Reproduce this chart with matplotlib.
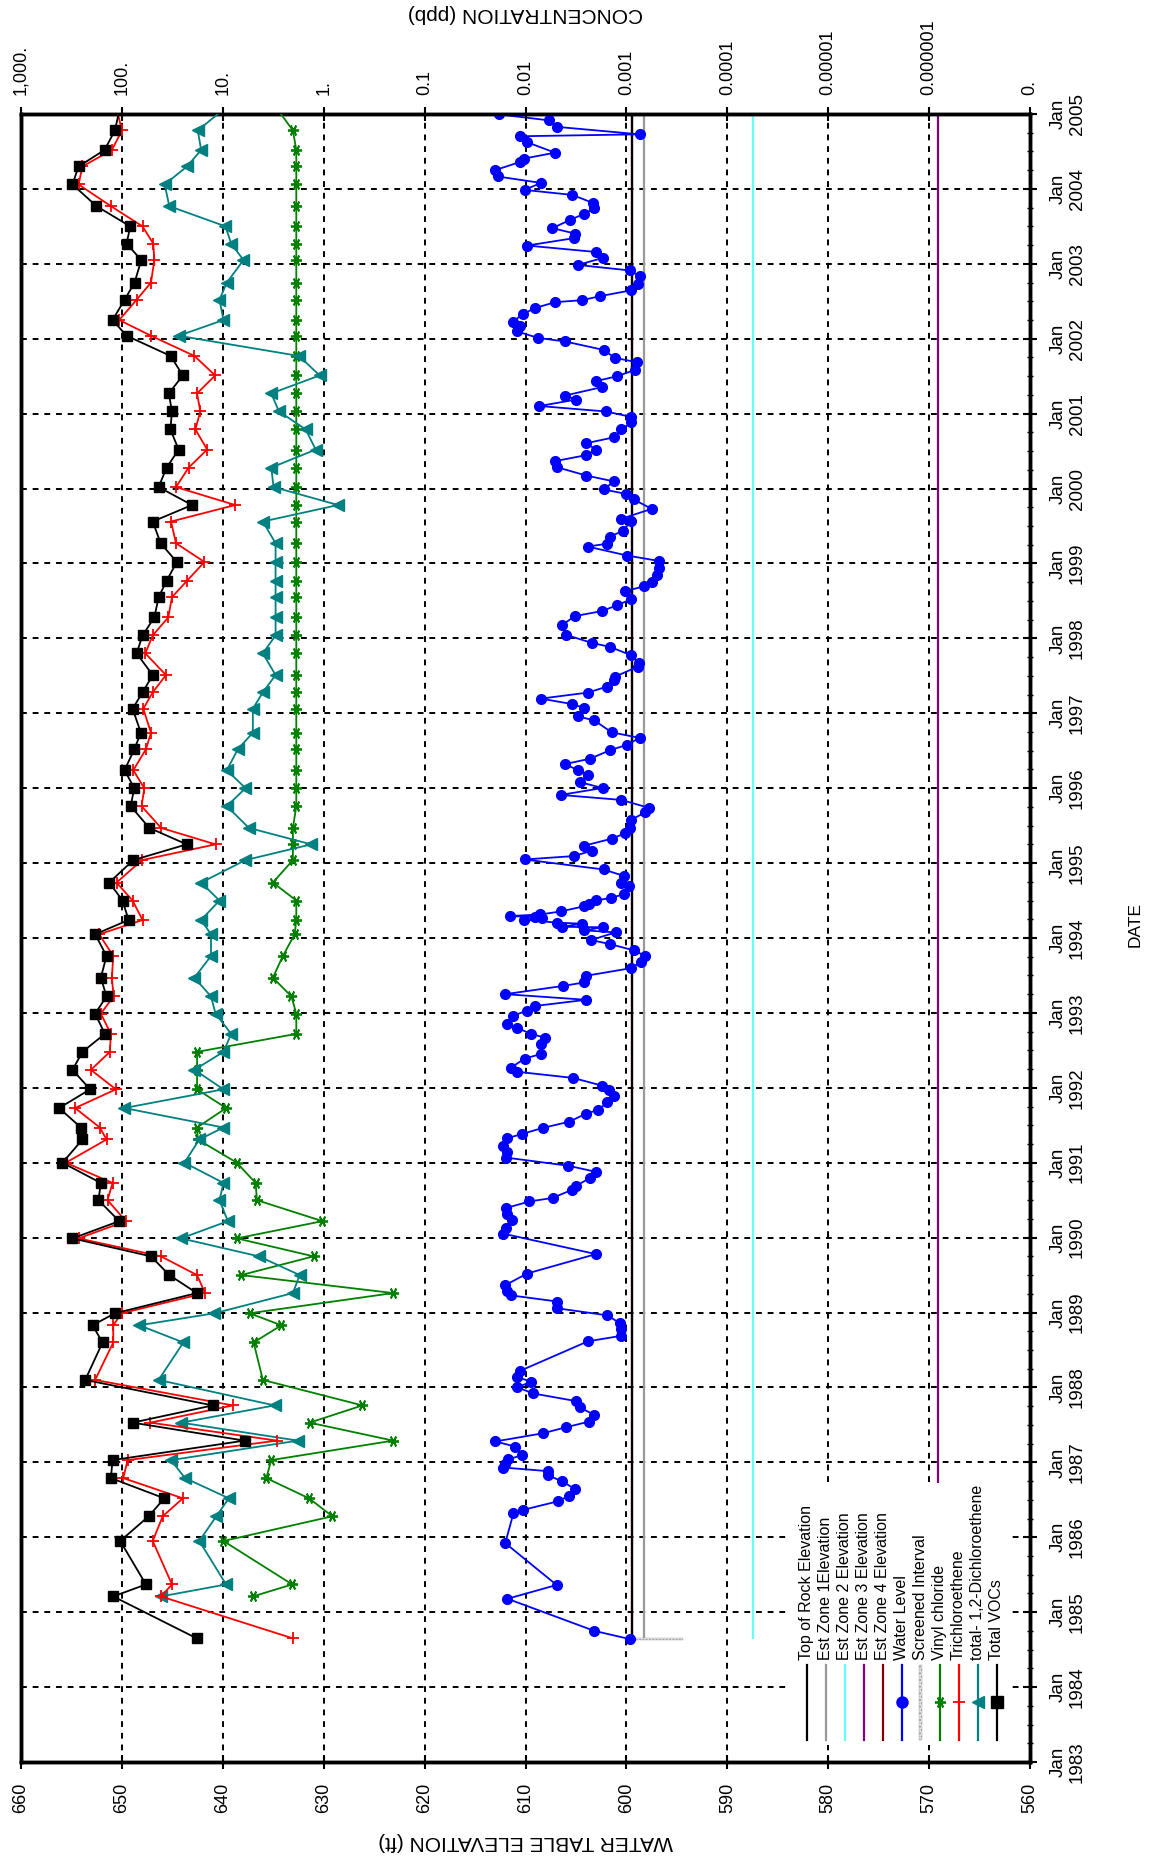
import numpy as np
import matplotlib
matplotlib.use("Agg")
import matplotlib.pyplot as plt
from matplotlib.lines import Line2D
from matplotlib.patches import Rectangle
from matplotlib.ticker import NullLocator

plt.rcParams['font.family'] = ['Liberation Sans', 'DejaVu Sans']

nan = float('nan')

# ---------------- water level record (decimal year, ft) ----------------
wl_dates = [
    1984.641, 1984.750, 1985.179, 1985.363, 1985.922, 1986.318, 1986.365, 1986.481,
    1986.556, 1986.645, 1986.747, 1986.829, 1986.883, 1986.931, 1986.979, 1987.040,
    1987.095, 1987.211, 1987.279, 1987.388, 1987.470, 1987.545, 1987.633, 1987.735,
    1987.817, 1987.920, 1988.001, 1988.076, 1988.138, 1988.219, 1988.615, 1988.690,
    1988.778, 1988.860, 1988.962, 1989.058, 1989.147, 1989.228, 1989.283, 1989.365,
    1989.521, 1989.780, 1990.053, 1990.135, 1990.237, 1990.319, 1990.394, 1990.483,
    1990.530, 1990.639, 1990.694, 1990.796, 1990.878, 1990.960, 1991.069, 1991.144,
    1991.226, 1991.328, 1991.382, 1991.464, 1991.546, 1991.655, 1991.703, 1991.805,
    1991.894, 1991.975, 1992.030, 1992.132, 1992.214, 1992.269, 1992.391, 1992.453,
    1992.582, 1992.670, 1992.718, 1992.800, 1992.848, 1992.964, 1993.032, 1993.093,
    1993.175, 1993.250, 1993.359, 1993.407, 1993.496, 1993.598, 1993.680, 1993.761,
    1993.836, 1993.918, 1993.973, 1994.075, 1994.102, 1994.143, 1994.150, 1994.191,
    1994.205, 1994.245, 1994.266, 1994.280, 1994.293, 1994.314, 1994.355, 1994.423,
    1994.450, 1994.504, 1994.532, 1994.586, 1994.690, 1994.736, 1994.829, 1994.915,
    1995.048, 1995.094, 1995.167, 1995.233, 1995.326, 1995.399, 1995.472, 1995.578,
    1995.678, 1995.737, 1995.843, 1995.910, 1996.002, 1996.082, 1996.175, 1996.241,
    1996.321, 1996.394, 1996.507, 1996.579, 1996.672, 1996.745, 1996.905, 1996.958,
    1997.070, 1997.123, 1997.196, 1997.276, 1997.355, 1997.442, 1997.488, 1997.621,
    1997.667, 1997.773, 1997.886, 1997.939, 1998.045, 1998.178, 1998.297, 1998.364,
    1998.443, 1998.523, 1998.629, 1998.695, 1998.748, 1998.847, 1998.934, 1999.033,
    1999.106, 1999.225, 1999.265, 1999.358, 1999.438, 1999.570, 1999.597, 1999.729,
    1999.855, 1999.928, 1999.988, 2000.095, 2000.174, 2000.286, 2000.366, 2000.446,
    2000.519, 2000.605, 2000.684, 2000.790, 2000.883, 2000.956, 2001.029, 2001.102,
    2001.188, 2001.241, 2001.354, 2001.434, 2001.500, 2001.586, 2001.686, 2001.745,
    2001.851, 2001.964, 2002.011, 2002.097, 2002.176, 2002.229, 2002.329, 2002.408,
    2002.488, 2002.515, 2002.568, 2002.647, 2002.727, 2002.840, 2002.912, 2002.985,
    2003.078, 2003.158, 2003.244, 2003.343, 2003.403, 2003.476, 2003.589, 2003.668,
    2003.741, 2003.814, 2003.920, 2003.987, 2004.080, 2004.166, 2004.252, 2004.358,
    2004.405, 2004.484, 2004.623, 2004.703, 2004.729, 2004.829, 2004.915, 2004.995,
    2005.150,
]
wl_elev = [
    599.68, 603.18, 611.79, 606.92, 612.01, 611.20, 610.26, 606.75,
    605.71, 605.13, 606.36, 607.82, 607.82, 612.21, 612.01, 611.69,
    610.39, 611.04, 612.99, 608.28, 605.94, 603.67, 603.18, 604.64,
    604.97, 609.25, 610.81, 609.45, 610.81, 610.58, 603.83, 600.49,
    600.49, 600.68, 601.88, 606.92, 606.85, 611.40, 611.79, 612.01,
    609.84, 603.02, 612.21, 611.95, 611.36, 611.79, 611.95, 609.61,
    607.31, 605.39, 604.97, 603.60, 603.02, 605.78, 611.95, 611.85,
    612.27, 611.79, 610.39, 608.31, 605.71, 603.99, 602.86, 601.88,
    601.23, 601.72, 602.44, 605.29, 610.81, 611.46, 610.06, 608.44,
    608.44, 608.05, 609.45, 610.81, 611.79, 611.20, 609.84, 609.03,
    603.99, 612.01, 606.33, 604.16, 603.99, 599.51, 598.57, 598.15,
    599.29, 601.62, 603.51, 601.07, 604.16, 602.37, 606.36, 604.38,
    606.92, 610.16, 608.38, 609.03, 611.56, 608.54, 606.49, 604.22,
    603.67, 603.02, 601.56, 600.26, 599.71, 600.49, 600.26, 602.27,
    610.10, 605.19, 603.41, 604.16, 601.46, 600.10, 599.68, 599.51,
    598.15, 597.76, 600.49, 606.53, 602.37, 604.64, 603.83, 604.81,
    606.10, 603.60, 601.62, 599.94, 598.70, 601.46, 603.18, 604.81,
    604.16, 605.39, 608.47, 603.83, 601.95, 601.23, 601.14, 598.90,
    598.80, 599.51, 601.62, 603.41, 605.94, 606.36, 605.13, 602.44,
    600.91, 599.51, 600.16, 598.25, 597.50, 596.95, 596.79, 596.75,
    599.94, 603.83, 601.88, 601.62, 600.32, 599.51, 600.49, 597.50,
    599.29, 600.00, 602.27, 601.23, 603.99, 606.92, 607.08, 603.99,
    603.02, 603.99, 601.23, 600.49, 599.51, 599.51, 602.05, 608.64,
    604.97, 606.10, 602.44, 603.02, 600.91, 599.12, 598.96, 601.14,
    602.27, 606.10, 608.77, 610.81, 610.58, 611.23, 610.26, 609.09,
    607.08, 604.38, 602.63, 599.51, 598.90, 598.70, 599.68, 604.81,
    602.37, 603.02, 609.84, 605.19, 605.06, 607.34, 605.55, 604.16,
    603.18, 603.34, 605.36, 610.10, 608.47, 612.76, 612.99, 610.58,
    610.16, 607.08, 609.84, 610.58, 598.70, 606.92, 607.66, 612.60,
    608.50,
]

# ---------------- groundwater quality samples (ppb) ----------------
voc_dates = [
    1984.65, 1985.21, 1985.37, 1985.95, 1986.28, 1986.52, 1986.79, 1987.03,
    1987.29, 1987.53, 1987.76, 1988.10, 1988.60, 1988.83, 1988.99, 1989.26,
    1989.50, 1989.75, 1989.99, 1990.22, 1990.50, 1990.73, 1991.00, 1991.31,
    1991.47, 1991.73, 1991.98, 1992.24, 1992.48, 1992.72, 1992.99, 1993.22,
    1993.47, 1993.76, 1994.05, 1994.24, 1994.50, 1994.74, 1995.04, 1995.25,
    1995.47, 1995.76, 1996.00, 1996.24, 1996.52, 1996.74, 1997.06, 1997.28,
    1997.51, 1997.80, 1998.04, 1998.28, 1998.55, 1998.77, 1999.02, 1999.27,
    1999.56, 1999.78, 2000.02, 2000.28, 2000.52, 2000.79, 2001.03, 2001.27,
    2001.51, 2001.77, 2002.04, 2002.25, 2002.52, 2002.75, 2003.05, 2003.27,
    2003.50, 2003.77, 2004.06, 2004.30, 2004.52, 2004.78, 2005.20,
]
total_vocs = [
    18.1, 121.9, 57.8, 103.9, 54.3, 38.0, 128.6, 123.8,
    6.09, 78.4, 12.6, 231, 155.6, 195.5, 117.4, 18.1,
    33.9, 51.5, 309, 106.3, 170.7, 161.8, 388, 246,
    255, 419, 206.4, 309, 246, 147.5, 184.2, 142.0,
    161.8, 142.0, 184.2, 85.9, 98.5, 133.6, 77.1, 22.8,
    53.5, 82.0, 75.4, 94.1, 75.4, 64.8, 78.4, 62.4,
    49.5, 71.5, 62.4, 47.7, 43.3, 36.0, 28.6, 41.3,
    49.5, 20.2, 43.3, 36.0, 27.4, 33.1, 31.9, 34.3,
    24.9, 32.9, 89.9, 123.8, 94.1, 74.9, 64.3, 89.9,
    82.6, 178.6, 309, 269, 148.6, 117.4, 100,
]
trichloroethene = [
    2.02, 41.0, 31.9, 49.5, 39.4, 24.9, 97.0, 87.8,
    2.91, 52.3, 7.96, 184.2, 121.9, 121.9, 100.8, 15.0,
    18.0, 41.0, 269, 91.3, 138.8, 123.8, 359.5, 142.0,
    165.4, 291, 114.7, 203, 131.6, 128.6, 161.8, 121,
    125.7, 121.9, 168, 62.4, 78.4, 113.0, 63.3, 11.8,
    41.0, 63.8, 60.0, 77.1, 57.8, 51.5, 61.4, 49.5,
    36.6, 58.6, 49.5, 34.7, 31.9, 22.6, 15.2, 29.1,
    32.6, 7.54, 29.1, 21.8, 14.3, 18.7, 16.7, 18.0,
    11.9, 19.1, 51.5, 106.3, 71.5, 51.5, 47.7, 48.9,
    62.4, 128.6, 269, 246, 125.7, 100, 119,
]
dichloroethene = [
    nan, 41.0, 9.27, 17.1, 11.6, 8.71, 23.7, 32.6,
    1.80, 25.9, 3.07, 43.3, 24.6, 67.3, 12.1, 2.02,
    1.73, 4.39, 25.9, 8.91, 10.8, 9.85, 24.0, 17.1,
    9.85, 94.8, 9.85, 19.1, 9.85, 8.26, 11.8, 13.1,
    19.1, 13.1, 13.1, 16.4, 10.8, 16.4, 5.96, 1.33,
    5.52, 9.12, 5.96, 9.12, 7.10, 5.04, 5.04, 4.01,
    3.00, 4.01, 3.00, 3.00, 3.00, 3.00, 3.00, 3.00,
    4.01, 0.721, 3.14, 3.31, 1.20, 1.51, 2.78, 3.31,
    1.096, 1.76, 27.4, 9.85, 10.8, 9.12, 6.24, 8.26,
    9.41, 33.9, 37.7, 22.6, 16.4, 17.7, 7.4,
]
vinyl_chloride = [
    nan, 5.04, 2.05, 9.85, 0.821, 1.40, 3.71, 3.31,
    0.205, 1.38, 0.413, 4.01, 4.95, 2.63, 5.43, 0.205,
    6.58, 1.26, 7.26, 1.03, 4.59, 4.73, 7.26, 17.7,
    18.0, 9.27, 18.0, 18.0, 18.0, 1.87, 1.87, 2.09,
    3.19, 2.54, 1.94, 1.87, 1.87, 3.19, 2.02, 2.02,
    2.02, 1.87, 1.87, 1.87, 1.87, 1.87, 1.87, 1.87,
    1.87, 1.87, 1.87, 1.87, 1.87, 1.87, 1.87, 1.87,
    1.87, 1.87, 1.87, 1.87, 1.87, 1.87, 1.87, 1.87,
    1.87, 1.87, 1.87, 1.87, 1.87, 1.87, 1.87, 1.87,
    1.87, 1.87, 1.87, 1.87, 1.87, 2.02, 3.4,
]

# ---------------- well construction (ft) ----------------
top_of_rock = 599.4
zone1_elev = 598.3
zone2_elev = 587.5
zone3_elev = 569.1
zone4_elev = 599.4
screen_top = 599.3
screen_bottom = 594.4

# ---------------- axes labelling ----------------
elev_ticks = list(range(560, 661, 10))
conc_ticks = [1e3, 1e2, 1e1, 1e0, 1e-1, 1e-2, 1e-3, 1e-4, 1e-5, 1e-6, 1e-7]
conc_labels = ['1,000.', '100.', '10.', '1.', '0.1', '0.01', '0.001',
               '0.0001', '0.00001', '0.000001', '0.']
years = list(range(1983, 2006))
year_labels = [f"Jan\n{y}" for y in years]

C_ROCK = 'black'
C_Z1 = '#999999'
C_Z2 = '#66ffff'
C_Z3 = '#800080'
C_Z4 = '#800000'
C_WL = '#0000ff'
C_VC = '#008000'
C_TCE = '#ff0000'
C_DCE = '#008080'
C_TOT = 'black'
VC_MARKER = (6, 2, 90)

fig = plt.figure(figsize=(11.54, 18.60), dpi=100)
ax = fig.add_axes([0.0182, 0.0527, 0.8744, 0.8860])

# Well construction reference elevations over the monitoring record
t_start = wl_dates[0]
t_end = wl_dates[-1] + 0.5
for elev, col in [(zone4_elev, C_Z4), (zone3_elev, C_Z3), (zone2_elev, C_Z2),
                  (zone1_elev, C_Z1), (top_of_rock, C_ROCK)]:
    ax.vlines(elev, t_start, t_end, colors=col, linewidth=1.6, zorder=2)

ax.barh(t_start, screen_top - screen_bottom, left=screen_bottom, height=0.035,
        facecolor='#e6e6e6', edgecolor='#9a9a9a', hatch='.....', linewidth=0.3,
        zorder=2)

ax.plot(wl_elev, wl_dates, color=C_WL, lw=1.3, marker='o', ms=7,
        mfc=C_WL, mec=C_WL, zorder=3)

ax.set_xlim(660, 560)
ax.set_ylim(1983, 2005)
ax.set_xticks(elev_ticks)
ax.set_yticks(years)
ax.set_yticklabels(year_labels)
ax.set_yticks(np.arange(1983, 2005.01, 0.25), minor=True)
ax.xaxis.set_minor_locator(NullLocator())
ax.yaxis.tick_right()
ax.grid(which='major', color='black', linestyle=(0, (3, 3)), linewidth=1.4)
ax.set_axisbelow(True)

ax.tick_params(axis='x', which='major', direction='inout', length=10, width=1.5,
               labelsize=13, pad=10, labelrotation=90)
ax.tick_params(axis='y', which='major', direction='inout', length=10, width=1.5,
               labelsize=13.5, pad=9, labelrotation=90, right=True, left=False,
               labelright=True, labelleft=False)
ax.tick_params(axis='y', which='minor', direction='inout', length=5, width=1,
               right=True, left=False)
for lab in ax.get_yticklabels():
    lab.set_va('center')
    lab.set_ha('left')
    lab.set_multialignment('center')

ax.set_xlabel('WATER TABLE ELEVATION (ft)', fontsize=15, rotation=180,
              ha='center', va='center')
ax.xaxis.set_label_coords(0.5, -0.0485)
ax.yaxis.set_label_position('right')
ax.set_ylabel('DATE', fontsize=12.5, rotation=90, ha='center', va='center')
ax.yaxis.set_label_coords(1.104, 0.508)

# Concentration scale on the opposite side
ax2 = ax.twiny()
ax2.set_xscale('log')
ax2.plot(vinyl_chloride, voc_dates, color=C_VC, lw=1.3, marker=VC_MARKER,
         ms=8, mew=1.3, zorder=3)
ax2.plot(dichloroethene, voc_dates, color=C_DCE, lw=1.3, marker='<', ms=8,
         zorder=3)
ax2.plot(trichloroethene, voc_dates, color=C_TCE, lw=1.3, marker='+', ms=9,
         mew=1.3, zorder=4)
ax2.plot(total_vocs, voc_dates, color=C_TOT, lw=1.3, marker='s', ms=7.5,
         zorder=4)
ax2.set_xlim(conc_ticks[0], conc_ticks[-1])
ax2.set_ylim(1983, 2005)
ax2.set_xticks(conc_ticks)
ax2.set_xticklabels(conc_labels)
ax2.xaxis.set_minor_locator(NullLocator())
ax2.tick_params(axis='x', which='major', direction='inout', length=10, width=1.5,
                labelsize=13, pad=8.5, labelrotation=90)
ax2.set_xlabel('CONCENTRATION (ppb)', fontsize=15, rotation=180,
               ha='center', va='center')
ax2.xaxis.set_label_coords(0.5, 1.0607)

for a in (ax, ax2):
    for s in a.spines.values():
        s.set_linewidth(2.5)

# Legend, drawn as rotated entries in the lower right corner
ax2.add_patch(Rectangle((0.762, 0.0103), 0.218, 0.159, transform=ax2.transAxes,
                        facecolor='white', edgecolor='none', zorder=10))
legend_items = [
    ('Top of Rock Elevation', C_ROCK, None),
    ('Est Zone 1Elevation', C_Z1, None),
    ('Est Zone 2 Elevation', C_Z2, None),
    ('Est Zone 3 Elevation', C_Z3, None),
    ('Est Zone 4 Elevation', C_Z4, None),
    ('Water Level', C_WL, 'o'),
    ('Screened Interval', 'hatch', None),
    ('Vinyl chloride', C_VC, VC_MARKER),
    ('Trichloroethene', C_TCE, '+'),
    ('total- 1,2-Dichloroethene', C_DCE, '<'),
    ('Total VOCs', C_TOT, 's'),
]
lx0, lstep = 0.7785, 0.01883
ly0, ly1, lym, lyt = 0.0134, 0.0589, 0.0366, 0.0619
for i, (text, col, mk) in enumerate(legend_items):
    x = lx0 + i * lstep
    if col == 'hatch':
        ax2.add_patch(Rectangle((x - 0.0016, ly0), 0.0032, ly1 - ly0,
                                transform=ax2.transAxes, facecolor='#e6e6e6',
                                edgecolor='#9a9a9a', hatch='.....', lw=0.3,
                                zorder=11))
    else:
        ax2.add_line(Line2D([x, x], [ly0, ly1], transform=ax2.transAxes,
                            color=col, lw=1.6, zorder=11))
        if mk is not None:
            kw = dict(mew=1.3) if mk in ('+', VC_MARKER) else {}
            ax2.add_line(Line2D([x], [lym], transform=ax2.transAxes, color=col,
                                marker=mk, ms=9 if mk == '+' else 8,
                                mfc=col, mec=col, zorder=12, **kw))
    ax2.text(x, lyt, text, transform=ax2.transAxes, rotation=90,
             ha='center', va='bottom', fontsize=11.5, zorder=12)

ax2.set_xlim(conc_ticks[0], conc_ticks[-1])
ax2.set_ylim(1983, 2005)

fig.savefig('out.png', dpi=100)
